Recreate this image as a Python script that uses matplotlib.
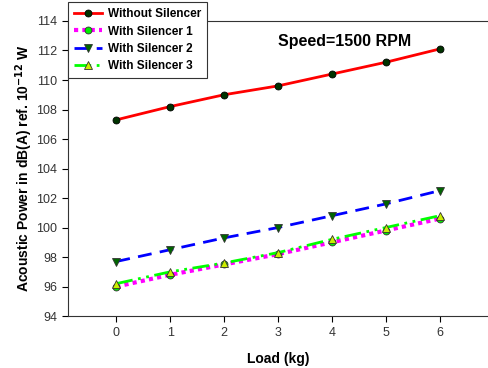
import matplotlib
matplotlib.use("Agg")
import matplotlib.pyplot as plt

plt.rcParams["font.family"] = ["Liberation Sans", "DejaVu Sans"]

load = [0, 1, 2, 3, 4, 5, 6]
without_silencer = [107.3, 108.2, 109.0, 109.6, 110.4, 111.2, 112.1]
silencer_1 = [96.0, 96.8, 97.5, 98.2, 99.0, 99.8, 100.6]
silencer_2 = [97.7, 98.5, 99.3, 100.0, 100.8, 101.6, 102.5]
silencer_3 = [96.2, 97.0, 97.6, 98.3, 99.2, 100.0, 100.8]

fig = plt.figure(figsize=(4.88, 3.68), dpi=100)
ax = fig.add_axes([0.139, 0.141, 0.861, 0.802])

ax.plot(load, without_silencer, color="red", lw=2, ls="-", marker="o", ms=5,
        mfc="#003300", mec="black", mew=0.6, label="Without Silencer")
ax.plot(load, silencer_1, color="magenta", lw=3, ls=(0, (1, 1)), marker="o", ms=5,
        mfc="#00ee00", mec="#333333", mew=0.6, label="With Silencer 1")
ax.plot(load, silencer_2, color="blue", lw=2, ls=(0, (5, 3)), marker="v", ms=6,
        mfc="#006600", mec="#333333", mew=0.6, label="With Silencer 2")
ax.plot(load, silencer_3, color="#00ff00", lw=2, ls=(0, (6, 2, 1, 2, 1, 2)), marker="^", ms=6,
        mfc="#ccee00", mec="#333333", mew=0.6, label="With Silencer 3")

ax.set_xlim(-0.9, 6.9)
ax.set_ylim(94, 114)
ax.set_xticks(load)
ax.set_yticks(range(94, 115, 2))
ax.tick_params(labelsize=9, labelcolor="#333333", direction="out", length=4, width=0.8)
for s in ["left", "bottom", "top"]:
    ax.spines[s].set_color("#333333")
ax.spines["right"].set_visible(False)

ax.set_xlabel("Load (kg)", fontsize=10, fontweight="bold", labelpad=10)
ax.set_ylabel("Acoustic Power in dB(A) ref. 10$^{\\mathbf{-12}}$ W", fontsize=10, fontweight="bold", labelpad=1)

ax.text(0.5, 0.932, "Speed=1500 RPM", transform=ax.transAxes, fontsize=11.5,
        fontweight="bold", va="center")

leg = ax.legend(loc="upper left", bbox_to_anchor=(0.0, 1.063), fontsize=8.5, frameon=True,
                fancybox=False, framealpha=1, edgecolor="#333333", handlelength=2.4,
                borderpad=0.5, labelspacing=0.45, handletextpad=0.5, borderaxespad=0)
for t in leg.get_texts():
    t.set_fontweight("bold")
leg.get_frame().set_linewidth(0.8)

fig.savefig("out.png", dpi=100)
